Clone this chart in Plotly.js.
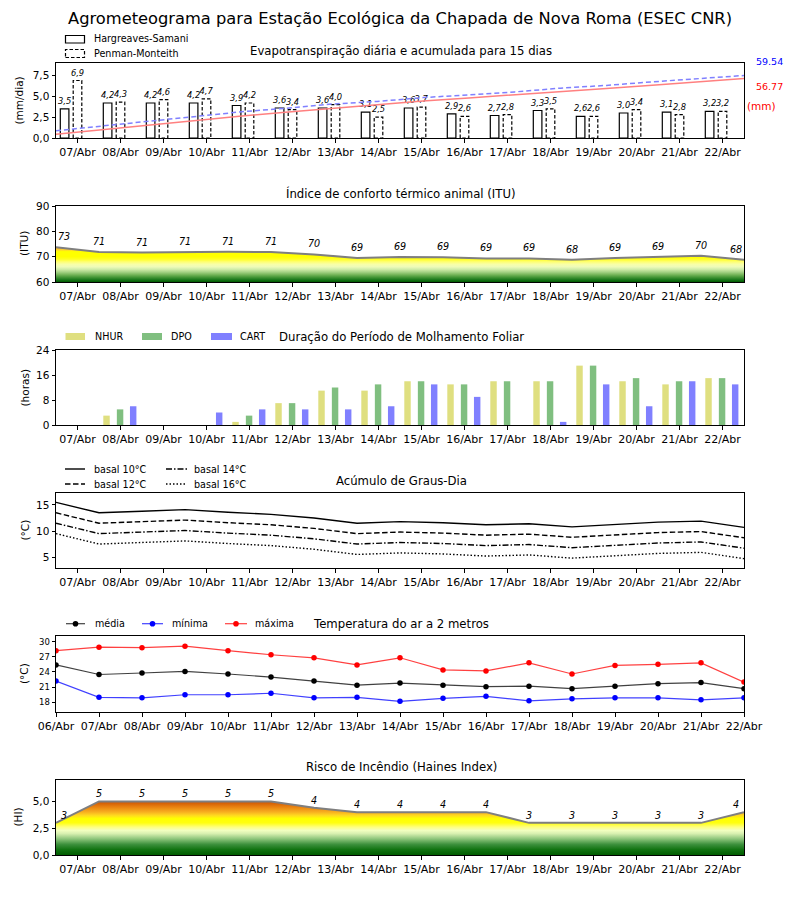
<!DOCTYPE html>
<html><head><meta charset="utf-8">
<script src="https://cdn.plot.ly/plotly-3.0.1.min.js"></script>
<style>html,body{margin:0;padding:0;background:#fff}</style>
</head><body><div id="chart" style="width:800px;height:900px"></div>
<script>
// ---------- DATA ----------
const days = ['07/Abr','08/Abr','09/Abr','10/Abr','11/Abr','12/Abr','13/Abr','14/Abr','15/Abr','16/Abr','17/Abr','18/Abr','19/Abr','20/Abr','21/Abr','22/Abr'];
const dates17 = ['06/Abr','07/Abr','08/Abr','09/Abr','10/Abr','11/Abr','12/Abr','13/Abr','14/Abr','15/Abr','16/Abr','17/Abr','18/Abr','19/Abr','20/Abr','21/Abr','22/Abr'];

// Evapotranspiração (mm/dia)
const etHS = [3.5,4.2,4.2,4.2,3.9,3.6,3.6,3.1,3.6,2.9,2.7,3.3,2.6,3.0,3.1,3.2];
const etPM = [6.9,4.3,4.6,4.7,4.2,3.4,4.0,2.5,3.7,2.6,2.8,3.5,2.6,3.4,2.8,3.2];
// Acumulada (mm)
const etHSacc = [3.6,8.0,12.4,16.7,20.8,24.5,28.2,31.5,35.2,38.2,41.0,44.4,47.1,50.2,53.5,56.77];
const etPMacc = [6.9,11.3,15.9,20.6,24.8,28.3,32.3,34.8,38.5,41.1,43.9,47.5,50.1,53.5,56.3,59.54];
const etHSTotal = '56.77';
const etPMTotal = '59.54';

// ITU
const itu = [73.7,71.8,71.6,71.8,71.9,71.8,70.9,69.5,69.9,69.8,69.3,69.3,68.8,69.5,69.9,70.4,68.8];
const ituLabels = ['73','71','71','71','71','71','70','69','69','69','69','69','68','69','69','70','68'];

// Molhamento foliar (horas)
const nhur = [0,3,0,0,1,7,11,11,14,13,14,14,19,14,13,15];
const dpo  = [0,5,0,0,3,7,12,13,14,13,14,14,19,15,14,15];
const cart = [0,6,0,4,5,5,5,6,13,9,0,1,13,6,14,13];

// Graus-dia (°C)
const gd10 = [15.5,13.5,13.8,14.1,13.6,13.2,12.5,11.5,11.8,11.6,11.2,11.4,10.8,11.3,11.7,11.9,10.7];
const gd12 = [13.5,11.5,11.8,12.1,11.6,11.2,10.5,9.5,9.8,9.6,9.2,9.4,8.8,9.3,9.7,9.9,8.7];
const gd14 = [11.5,9.5,9.8,10.1,9.6,9.2,8.5,7.5,7.8,7.6,7.2,7.4,6.8,7.3,7.7,7.9,6.7];
const gd16 = [9.5,7.5,7.8,8.1,7.6,7.2,6.5,5.5,5.8,5.6,5.2,5.4,4.8,5.3,5.7,5.9,4.7];

// Temperatura do ar (°C)
const tMed = [25.4,23.5,23.8,24.1,23.6,23.0,22.2,21.4,21.8,21.4,21.1,21.2,20.7,21.2,21.7,21.9,20.7];
const tMin = [22.2,19.0,18.9,19.5,19.5,19.8,18.9,19.0,18.2,18.8,19.2,18.3,18.7,18.9,18.9,18.5,18.9];
const tMax = [28.2,28.9,28.8,29.1,28.2,27.4,26.8,25.4,26.8,24.4,24.2,25.8,23.6,25.3,25.5,25.8,22.0];

// Haines
const haines = [3.0,5.0,5.0,5.0,5.0,5.0,4.4,4.0,4.0,4.0,4.0,3.0,3.0,3.0,3.0,3.0,4.0];
const hainesLabels = ['3','5','5','5','5','5','4','4','4','4','4','3','3','3','3','3','4'];

// ---------- HELPERS ----------
const W = 800, H = 900;
const px = x => x / W;
const py = y => 1 - y / H;
const FONT = 'DejaVu Sans, sans-serif';
const idx16 = days.map((d, i) => i);
const idx17 = dates17.map((d, i) => i);
const half16 = days.map((d, i) => i + 0.5);
const fmt1 = v => v.toFixed(1).replace('.', ',');

function xa(dom, anchor, range, tickvals, ticktext) {
  return {domain: dom, anchor: anchor, range: range, tickmode: 'array', tickvals: tickvals, ticktext: ticktext,
    showline: true, linecolor: 'black', linewidth: 1, mirror: true, ticks: 'outside', ticklen: 3.5, tickwidth: 1,
    tickcolor: 'black', showgrid: false, zeroline: false, tickfont: {family: FONT, size: 11, color: 'black'}, fixedrange: true};
}
function ya(dom, anchor, range, tickvals, extra) {
  return Object.assign({domain: dom, anchor: anchor, range: range, tickmode: 'array', tickvals: tickvals,
    showline: true, linecolor: 'black', linewidth: 1, mirror: true, ticks: 'outside', ticklen: 3.5, tickwidth: 1,
    tickcolor: 'black', showgrid: false, zeroline: false, tickfont: {family: FONT, size: 10.5, color: 'black'}, fixedrange: true}, extra || {});
}
const XD = [px(56), px(744)];

// ---------- TRACES ----------
const traces = [];
// Panel 1
traces.push({type: 'bar', x: idx16, y: etHS, width: 0.2, offset: -0.4, xaxis: 'x', yaxis: 'y',
  marker: {color: 'white', line: {color: 'black', width: 1.2}},
  text: etHS.map(fmt1), textposition: 'outside', textangle: 0, constraintext: 'none', cliponaxis: false,
  textfont: {family: FONT, size: 8.3, style: 'italic', color: 'black'}, showlegend: false, hoverinfo: 'skip'});
traces.push({type: 'bar', x: idx16, y: etPM, width: 0.2, offset: -0.1, xaxis: 'x', yaxis: 'y',
  marker: {color: 'white', line: {color: 'white', width: 0}},
  text: etPM.map(fmt1), textposition: 'outside', textangle: 0, constraintext: 'none', cliponaxis: false,
  textfont: {family: FONT, size: 8.3, style: 'italic', color: 'black'}, showlegend: false, hoverinfo: 'skip'});
const pmX = [], pmY = [];
etPM.forEach((v, i) => {
  pmX.push(i - 0.1, i - 0.1, i + 0.1, i + 0.1, i - 0.1, null);
  pmY.push(0, v, v, 0, 0, null);
});
traces.push({type: 'scatter', mode: 'lines', x: pmX, y: pmY, xaxis: 'x', yaxis: 'y',
  line: {color: 'black', width: 1.2, dash: '3.5px,2px'}, showlegend: false, hoverinfo: 'skip'});
traces.push({type: 'scatter', mode: 'lines', x: idx16, y: etHSacc, xaxis: 'x2', yaxis: 'y2',
  line: {color: '#ff8080', width: 1.5}, showlegend: false, hoverinfo: 'skip'});
traces.push({type: 'scatter', mode: 'lines', x: idx16, y: etPMacc, xaxis: 'x2', yaxis: 'y2',
  line: {color: '#8080ff', width: 1.5, dash: '5px,3px'}, showlegend: false, hoverinfo: 'skip'});

// Panel 2 ITU
traces.push({type: 'scatter', mode: 'lines', x: idx17, y: itu, xaxis: 'x3', yaxis: 'y3',
  line: {color: '#7f7f7f', width: 2}, fill: 'tozeroy',
  fillgradient: {type: 'vertical', start: 60, stop: 74, colorscale: [
    [0, '#005a00'], [0.071, '#1e7b1e'], [0.143, '#4a9a3a'], [0.214, '#7ab85e'], [0.286, '#a8d488'],
    [0.357, '#d0eca8'], [0.429, '#eefbb8'], [0.5, '#f8ffa8'], [0.571, '#ffff70'], [0.643, '#ffff22'],
    [0.714, '#ffff00'], [0.857, '#ffff00'], [0.907, '#ffd030'], [1, '#f5a020']]},
  showlegend: false, hoverinfo: 'skip'});

// Panel 3 molhamento
traces.push({type: 'bar', x: idx16, y: nhur, width: 0.15, offset: -0.4, xaxis: 'x4', yaxis: 'y4',
  marker: {color: '#dfdf80', line: {width: 0}}, showlegend: false, hoverinfo: 'skip'});
traces.push({type: 'bar', x: idx16, y: dpo, width: 0.15, offset: -0.085, xaxis: 'x4', yaxis: 'y4',
  marker: {color: '#80bf80', line: {width: 0}}, showlegend: false, hoverinfo: 'skip'});
traces.push({type: 'bar', x: idx16, y: cart, width: 0.15, offset: 0.22, xaxis: 'x4', yaxis: 'y4',
  marker: {color: '#8080ff', line: {width: 0}}, showlegend: false, hoverinfo: 'skip'});

// Panel 4 graus-dia
const gdStyles = [[gd10, 'solid'], [gd12, '5.5px,2.5px'], [gd14, '6px,2px,1.5px,2px'], [gd16, '1.5px,2px']];
gdStyles.forEach(s => traces.push({type: 'scatter', mode: 'lines', x: idx17, y: s[0], xaxis: 'x5', yaxis: 'y5',
  line: {color: 'black', width: 1.4, dash: s[1]}, showlegend: false, hoverinfo: 'skip'}));

// Panel 5 temperatura
[[tMed, 'rgba(0,0,0,0.75)', 'black'], [tMin, 'rgba(0,0,255,0.75)', 'blue'], [tMax, 'rgba(255,0,0,0.75)', 'red']].forEach(s =>
  traces.push({type: 'scatter', mode: 'lines+markers', x: idx17, y: s[0], xaxis: 'x6', yaxis: 'y6',
    line: {color: s[1], width: 1.2}, marker: {color: s[2], size: 5.5}, showlegend: false, hoverinfo: 'skip'}));

// Panel 6 Haines
traces.push({type: 'scatter', mode: 'lines', x: idx17, y: haines, xaxis: 'x7', yaxis: 'y7',
  line: {color: '#7f7f7f', width: 2}, fill: 'tozeroy',
  fillgradient: {type: 'vertical', start: 0, stop: 5, colorscale: [
    [0, '#005c00'], [0.1, '#117311'], [0.2, '#3d913d'], [0.3, '#8cc47a'], [0.4, '#d8f0b0'], [0.46, '#f2ffc0'],
    [0.52, '#ffff80'], [0.6, '#ffff10'], [0.68, '#ffff00'], [0.74, '#ffd820'], [0.8, '#f8b020'],
    [0.9, '#e8800f'], [1, '#cc5200']]},
  showlegend: false, hoverinfo: 'skip'});

// ---------- ANNOTATIONS ----------
const ann = [];
const txt = (x, y, t, size, opts) => ann.push(Object.assign({xref: 'paper', yref: 'paper', x: px(x), y: py(y), text: t,
  showarrow: false, xanchor: 'center', yanchor: 'middle', font: {family: FONT, size: size, color: 'black'}}, opts || {}));

txt(400, 18, 'Agrometeograma para Estação Ecológica da Chapada de Nova Roma (ESEC CNR)', 16.3);
txt(401, 51, 'Evapotranspiração diária e acumulada para 15 dias', 11.7);
txt(401, 194, 'Índice de conforto térmico animal (ITU)', 11.7);
txt(401, 337, 'Duração do Período de Molhamento Foliar', 11.7);
txt(401, 481, 'Acúmulo de Graus-Dia', 11.7);
txt(401, 624, 'Temperatura do ar a 2 metros', 11.7);
txt(401, 767, 'Risco de Incêndio (Haines Index)', 11.7);

// y labels
txt(18, 100.5, '(mm/dia)', 10.5, {textangle: -90});
txt(24, 244, '(ITU)', 10.5, {textangle: -90});
txt(24, 387.5, '(horas)', 10.5, {textangle: -90});
txt(24, 530.5, '(°C)', 10.5, {textangle: -90});
txt(24, 674, '(°C)', 10.5, {textangle: -90});
txt(17, 817.5, '(HI)', 10.5, {textangle: -90});

// right labels panel 1
txt(769, 61.5, etPMTotal, 9.5, {font: {family: FONT, size: 9.5, color: 'blue'}});
txt(769, 86.5, etHSTotal, 9.5, {font: {family: FONT, size: 9.5, color: 'red'}});
txt(761, 105.5, '(mm)', 10.5, {font: {family: FONT, size: 10.5, color: 'red'}});

// legends text
const LF = 9.6;
txt(92, 38.5, 'Hargreaves-Samani', LF, {xanchor: 'left'});
txt(92, 53.5, 'Penman-Monteith', LF, {xanchor: 'left'});
txt(93, 336.7, 'NHUR', LF, {xanchor: 'left'});
txt(169, 336.7, 'DPO', LF, {xanchor: 'left'});
txt(238, 336.7, 'CART', LF, {xanchor: 'left'});
txt(92, 469, 'basal 10°C', LF, {xanchor: 'left'});
txt(192, 469, 'basal 14°C', LF, {xanchor: 'left'});
txt(92, 484, 'basal 12°C', LF, {xanchor: 'left'});
txt(192, 484, 'basal 16°C', LF, {xanchor: 'left'});
txt(92.5, 623.7, 'média', LF, {xanchor: 'left'});
txt(170, 623.7, 'mínima', LF, {xanchor: 'left'});
txt(253, 623.7, 'máxima', LF, {xanchor: 'left'});

// value labels on ITU and Haines
function pointLabels(vals, labels, xr, yr, yshift, size) {
  vals.forEach((v, i) => {
    const n = vals.length - 1;
    ann.push({xref: xr, yref: yr, x: i, y: v, text: labels[i], showarrow: false,
      xanchor: 'center', yanchor: 'middle', yshift: yshift, xshift: i === 0 ? 8 : (i === n ? -8 : 0),
      font: {family: FONT, size: size, style: 'italic', color: 'black'}});
  });
}
pointLabels(itu, ituLabels, 'x3', 'y3', 10.5, 9.6);
pointLabels(haines, hainesLabels, 'x7', 'y7', 7.5, 9.6);

// ---------- SHAPES (legend handles) ----------
const shapes = [];
const rect = (x0, y0, x1, y1, o) => shapes.push(Object.assign({type: 'rect', xref: 'paper', yref: 'paper',
  x0: px(x0), x1: px(x1), y0: py(y1), y1: py(y0)}, o));
const hline = (x0, x1, y, o) => shapes.push(Object.assign({type: 'line', xref: 'paper', yref: 'paper',
  x0: px(x0), x1: px(x1), y0: py(y), y1: py(y)}, o));
const dot = (x, y, r, c) => shapes.push({type: 'circle', xref: 'paper', yref: 'paper',
  x0: px(x - r), x1: px(x + r), y0: py(y + r), y1: py(y - r), fillcolor: c, line: {width: 0}});

rect(65.5, 35.5, 84.5, 43, {line: {color: 'black', width: 1.2}, fillcolor: 'white'});
rect(65.5, 49.5, 84.5, 57.5, {line: {color: 'black', width: 1.2, dash: '3.5px,2px'}, fillcolor: 'white'});
rect(65.5, 333, 85, 340, {line: {width: 0}, fillcolor: '#dfdf80'});
rect(142, 333, 162, 340, {line: {width: 0}, fillcolor: '#80bf80'});
rect(211, 333, 232, 340, {line: {width: 0}, fillcolor: '#8080ff'});
hline(65, 85, 469, {line: {color: 'black', width: 1.4}});
hline(166, 187, 469, {line: {color: 'black', width: 1.4, dash: '6px,2px,1.5px,2px'}});
hline(65, 85, 484, {line: {color: 'black', width: 1.4, dash: '5.5px,2.5px'}});
hline(166, 187, 484, {line: {color: 'black', width: 1.4, dash: '1.5px,2px'}});
hline(66, 85, 623.7, {line: {color: 'rgba(0,0,0,0.75)', width: 1.2}});
dot(75.5, 623.7, 2.8, 'black');
hline(142, 163, 623.7, {line: {color: 'rgba(0,0,255,0.75)', width: 1.2}});
dot(152.5, 623.7, 2.8, 'blue');
hline(225, 247, 623.7, {line: {color: 'rgba(255,0,0,0.75)', width: 1.2}});
dot(236, 623.7, 2.8, 'red');

// ---------- LAYOUT ----------
const layout = {
  width: W, height: H, margin: {l: 0, r: 0, t: 0, b: 0}, paper_bgcolor: 'white', plot_bgcolor: 'white',
  separators: ',.', barmode: 'overlay', showlegend: false, font: {family: FONT, color: 'black'},
  xaxis: xa(XD, 'y', [-0.5, 15.5], idx16, days),
  yaxis: ya([py(138), py(63)], 'x', [0, 9.0], [0, 2.5, 5, 7.5], {tickformat: '.1f'}),
  xaxis2: {overlaying: 'x', range: [0, 15], visible: false, fixedrange: true},
  yaxis2: {overlaying: 'y', range: [0, 71.45], visible: false, fixedrange: true},
  xaxis3: xa(XD, 'y3', [0, 16], half16, days),
  yaxis3: ya([py(282), py(206)], 'x3', [60, 90], [60, 70, 80, 90]),
  xaxis4: xa(XD, 'y4', [-0.5, 15.5], idx16, days),
  yaxis4: ya([py(425), py(350)], 'x4', [0, 24], [0, 8, 16, 24]),
  xaxis5: xa(XD, 'y5', [0, 16], half16, days),
  yaxis5: ya([py(568), py(493)], 'x5', [2.9, 17.3], [5, 10, 15]),
  xaxis6: xa(XD, 'y6', [0, 16], idx17, dates17),
  yaxis6: ya([py(712), py(636)], 'x6', [16.1, 31.1], [18, 21, 24, 27, 30], {tickfont: {family: FONT, size: 8.5, color: 'black'}}),
  xaxis7: xa(XD, 'y7', [0, 16], half16, days),
  yaxis7: ya([py(855), py(780)], 'x7', [0, 7], [0, 2.5, 5], {tickformat: '.1f'}),
  annotations: ann, shapes: shapes
};

Plotly.newPlot('chart', traces, layout, {staticPlot: true, displayModeBar: false});
</script></body></html>
